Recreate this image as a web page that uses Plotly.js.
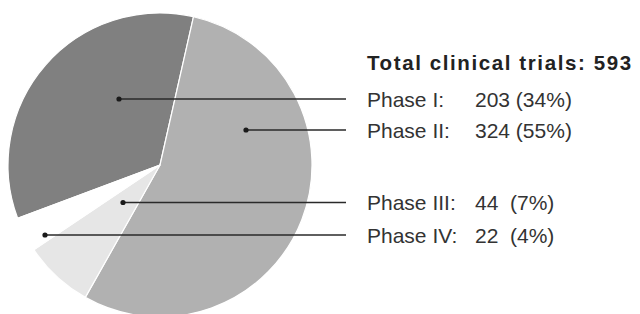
<!DOCTYPE html>
<html>
<head>
<meta charset="utf-8">
<script src="https://cdn.plot.ly/plotly-3.0.1.min.js"></script>
<style>
  html, body { margin: 0; padding: 0; background: #fff; overflow: hidden; }
  #wrap { width: 640px; height: 314px; overflow: hidden; position: relative; }
  #chart { width: 640px; height: 330px; }
</style>
</head>
<body>
<div id="wrap"><div id="chart"></div></div>
<script>
// ---- data ----
const phases = ["Phase I", "Phase II", "Phase III", "Phase IV"];
const counts = [203, 324, 44, 22];
const pctLabels = [34, 55, 7, 4];
const totalTrials = 593;
const titleText = "Total clinical trials: " + totalTrials;

// ---- style / layout constants ----
const W = 640, H = 330;
const sliceColors = ["#808080", "#b1b1b1", "#e6e6e6", "#ffffff"];
const pieCenter = [160, 165], pieRadius = 152;
// label anchor dots (px) and leader row y (px)
const dotX = [119, 246, 123, 45];
const rowY = [99, 130, 202.5, 235];
const lineEndX = 346;
const labelX = 365, countX = 473;
const titleY = 62.5;
const dotR = 2.6;

const pieTrace = {
  type: "pie",
  labels: phases,
  values: counts,
  sort: false,
  direction: "clockwise",
  rotation: -110.5,
  textinfo: "none",
  hoverinfo: "none",
  showlegend: false,
  marker: { colors: sliceColors, line: { color: "#ffffff", width: 1.2 } },
  domain: {
    x: [(pieCenter[0] - pieRadius) / W, (pieCenter[0] + pieRadius) / W],
    y: [(H - pieCenter[1] - pieRadius) / H, (H - pieCenter[1] + pieRadius) / H]
  }
};

const anchorTrace = {
  type: "scatter", mode: "markers", x: dotX, y: rowY,
  marker: { size: 1, opacity: 0 }, hoverinfo: "skip", showlegend: false
};

const shapes = [];
phases.forEach((p, i) => {
  shapes.push({
    type: "line", xref: "x", yref: "y",
    x0: dotX[i], x1: lineEndX, y0: rowY[i], y1: rowY[i],
    line: { color: "#2a2a2a", width: 1.4 }, layer: "above"
  });
  shapes.push({
    type: "circle", xref: "x", yref: "y",
    x0: dotX[i] - dotR, x1: dotX[i] + dotR, y0: rowY[i] - dotR, y1: rowY[i] + dotR,
    fillcolor: "#1a1a1a", line: { width: 0 }, layer: "above"
  });
});

const labelFont = { family: "Liberation Sans, Arial, sans-serif", size: 21, color: "#333333" };
const annotations = [];
annotations.push({
  xref: "x", yref: "y", x: labelX, y: titleY, xanchor: "left", yanchor: "middle",
  text: "<b>" + titleText + "</b>", showarrow: false,
  font: { family: "Liberation Sans, Arial, sans-serif", size: 20.5, color: "#222222" }
});
phases.forEach((p, i) => {
  annotations.push({
    xref: "x", yref: "y", x: labelX, y: rowY[i], xanchor: "left", yanchor: "middle",
    text: p + ":", showarrow: false, font: labelFont
  });
  const pad = String(counts[i]).length < 3 ? "\u00a0\u00a0" : "\u00a0";
  annotations.push({
    xref: "x", yref: "y", x: countX, y: rowY[i], xanchor: "left", yanchor: "middle",
    text: counts[i] + pad + "(" + pctLabels[i] + "%)", showarrow: false, font: labelFont
  });
});

const layout = {
  width: W, height: H,
  margin: { l: 0, r: 0, t: 0, b: 0, pad: 0 },
  paper_bgcolor: "#ffffff", plot_bgcolor: "rgba(0,0,0,0)",
  xaxis: { range: [0, W], visible: false, fixedrange: true, domain: [0, 1] },
  yaxis: { range: [H, 0], visible: false, fixedrange: true, domain: [0, 1] },
  shapes: shapes,
  annotations: annotations,
  showlegend: false
};

Plotly.newPlot("chart", [pieTrace, anchorTrace], layout, { staticPlot: true, displayModeBar: false }).then(() => {
  const t = document.querySelectorAll(".annotation-text")[0];
  if (t) {
    const l0 = t.getBoundingClientRect().left;
    t.style.letterSpacing = "1.6px";
    const l1 = t.getBoundingClientRect().left;
    const x = parseFloat(t.getAttribute("x") || "0");
    t.setAttribute("x", x + (l0 - l1));
  }
});
</script>
</body>
</html>
